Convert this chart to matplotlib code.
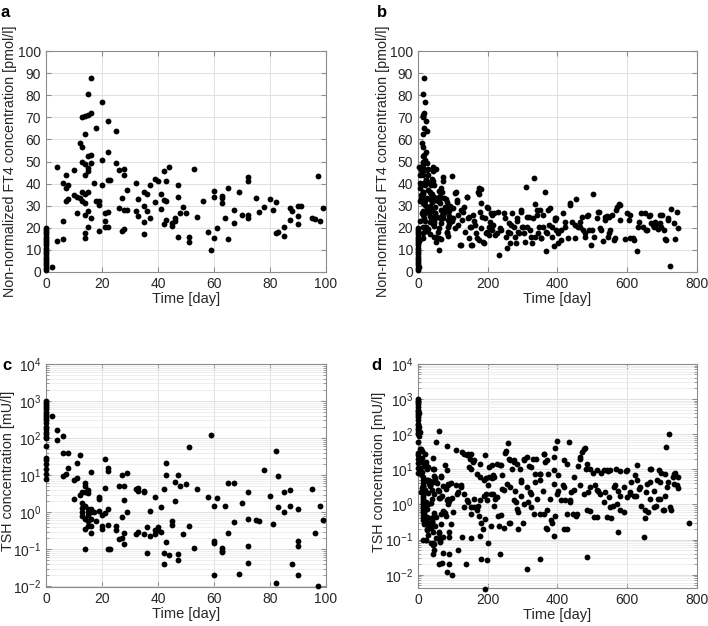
import numpy as np
import matplotlib
matplotlib.use("Agg")
import matplotlib.pyplot as plt
from matplotlib.ticker import LogLocator, NullFormatter

plt.rcParams['font.family'] = ['Liberation Sans', 'DejaVu Sans']
plt.rcParams['mathtext.default'] = 'regular'
plt.rcParams['font.size'] = 10

# ---- data ----
# panel a: FT4 in the first 100 days
a_day = [0, 0, 0, 0, 0, 0, 0, 0, 0, 0, 0, 0, 0, 0, 0, 0, 0, 0, 0, 0,
         2, 4, 4, 6, 6, 6, 7, 7, 7, 8, 8, 10, 10, 11, 11, 12, 12,
         13, 13, 13, 13, 13,
         14, 14, 14, 14, 14, 14, 14, 14, 14,
         15, 15, 15, 15, 15, 15, 15, 15,
         16, 16, 16, 16, 16, 17, 18, 18, 19, 19, 19, 20, 20, 20,
         21, 21, 21, 22, 22, 22, 22, 22, 23, 25, 25, 26, 26, 27, 27,
         28, 28, 28, 28, 29, 29, 32, 32, 33, 33, 35, 35, 35, 35, 36, 36,
         37, 37, 39, 39, 40, 41, 41, 42, 42, 42, 43, 43, 43, 44, 45, 45,
         46, 46, 47, 47, 47, 48, 49, 50, 51, 51, 53, 54, 56, 58, 59,
         60, 60, 60, 61, 63, 63, 63, 64, 65, 65, 67, 67, 69, 70,
         72, 72, 72, 72, 75, 76, 78, 80, 81, 82, 82, 83, 85, 85, 87, 87,
         88, 90, 90, 90, 91, 95, 96, 97, 98, 99]
a_ft4 = [1, 2, 3, 4, 5, 6, 7, 8, 9, 10, 11, 12, 13, 14, 15, 16, 17, 18, 19, 20,
         2.4, 47.5, 14, 40.5, 23, 15, 44, 38, 32, 39.5, 33, 46, 35, 34, 26.5, 58.5, 33.5,
         56.5, 70, 50, 36, 32,
         70.5, 62.5, 49, 44, 35.5, 31, 26, 17.5, 15.5,
         80.5, 71, 52.5, 47, 45.5, 36, 27.5, 20.5,
         88, 72, 53, 49.5, 24.5, 40.5, 65, 32, 32, 30.5, 18.5, 77, 50.5, 39.5,
         26.5, 23, 20.5, 68.5, 54.5, 41.5, 27, 20.5, 41.5, 64, 49.5, 46, 29, 33.5, 18.5,
         46.5, 44, 28, 19.5, 37, 28, 40.5, 27.5, 33, 25.5, 36, 30, 22.5, 17, 35.5, 27.5,
         39.5, 24.5, 42, 31.5, 41, 35.5, 28.5, 45.5, 32.5, 21.5, 41, 32, 23.5, 47.5, 22, 21,
         23, 24.5, 39.5, 34, 16, 26.5, 29.5, 26.5, 16, 13.5, 46.5, 25, 32, 18, 10,
         36.5, 34, 15.5, 20, 34.5, 31, 33.5, 24.5, 38, 15, 28, 22, 36, 26,
         43, 41, 26, 24.5, 33.5, 27, 29.5, 33, 28, 31.5, 17.5, 18, 20.5, 16.5, 29, 23.5,
         27.5, 30, 25.5, 21.5, 30, 24.5, 24, 43.5, 23, 29]

# panel b: FT4 after day 100 (panel b also shows all of panel a)
b_late_day = [101, 106, 106, 111, 114, 116, 120, 125, 130, 135, 140, 142, 146, 149, 154,
              159, 163, 168, 171, 175, 178, 182, 187, 192, 197, 200, 203, 206,
              108, 113, 122, 122, 132, 141, 146, 151, 151, 160, 165, 175, 175, 180, 180,
              184, 189, 194, 199, 203, 208, 213, 218, 227, 232, 237, 246, 251, 256, 261,
              265, 270, 275, 280, 284, 289, 294, 299, 304, 311, 313, 318, 323, 327, 332,
              335, 340, 344, 349, 354, 359, 364, 366, 370, 378, 383, 389, 394, 401, 409,
              416, 423, 431, 437, 442, 449, 454, 459, 466, 474, 480, 485, 490, 496, 502,
              506, 512, 518, 523, 531, 536, 542, 547, 552, 557, 563, 571, 576, 580, 595,
              600, 605, 609, 619, 628, 633, 639, 645, 652, 657, 662, 669, 676, 681, 687,
              693, 700, 705, 709, 716, 722, 726, 733, 738, 743, 745,
              397, 411, 421, 435, 450, 464, 469, 479, 488, 498, 516, 526, 535, 545, 549,
              564, 568, 578, 607, 616, 631, 654, 664, 674, 683, 693, 698, 712, 717,
              211, 216, 221, 230, 235, 249, 259, 264, 268, 278, 283, 287, 295, 301, 306,
              314, 320, 330, 335, 340, 346, 352, 358, 367, 372, 377, 384, 392, 396, 401]
b_late_ft4 = [24.3, 35.9, 20, 31.8, 25.8, 21.3, 12.2, 23.5, 27.3, 18.3, 34, 24.3, 15.5, 20.5, 12.2,
              25.8, 21.3, 15.2, 36.3, 37.9, 27.3, 19.8, 13.7, 24.3, 18.3, 28.8, 16.7, 22.8,
              36, 32.5, 28, 12.2, 29.5, 34, 25, 20.5, 12, 23, 17.5, 14.5, 35.5, 37.5, 31,
              25, 13, 17.5, 29.5, 20.5, 26.5, 19, 26.5, 17.5, 7.7, 19, 26.5, 16, 10.7, 22,
              17.5, 26.5, 20.5, 13.3, 23, 17.5, 28, 20.5, 17.5, 38.3, 20.5, 25, 16, 13.3, 42.4,
              30.8, 25.8, 17.5, 28, 15.2, 20.5, 36, 9.7, 17.5, 28.8, 20.5, 11.8, 23.5, 17.5, 14.5,
              26.5, 20.5, 15.2, 31, 22.8, 15.2, 32.9, 20.5, 22.8, 19, 16, 25.3, 19, 12.2, 35.4,
              16, 24.3, 27.3, 19.8, 14.2, 23.5, 25.3, 17.5, 19, 25.8, 14.5, 29.5, 30.8, 23.5, 14.8,
              26.8, 23.5, 15.2, 14.5, 9.5, 22.8, 26.5, 20.5, 26.5, 19, 25.3, 22, 20.5, 22.8, 19.3,
              22, 25.8, 19, 14.8, 23.5, 2.7, 28.4, 22.3, 14.8, 27.3, 20,
              24.3, 18.9, 22.6, 30.3, 21.1, 20.3, 24.8, 17.5, 25.6, 18.9, 27.3, 18.9, 24.8, 16, 24.8,
              15.2, 28, 30.3, 25.6, 15.2, 20.3, 18.9, 25.6, 21.1, 21.9, 25.6, 20.3, 14.5, 24.3,
              25.8, 21.3, 16.7, 27.3, 20, 24.3, 18.3, 13, 21.3, 16, 24.3, 18.3, 27.3, 20.5, 13.7,
              25, 19, 24.3, 16, 28, 20.5, 15.2, 25.8, 18.3, 28, 21.3, 16, 24.3, 19, 13]

# panel c: TSH in the first 100 days
c_day = [0, 0, 0, 0, 0, 0, 0, 0, 0, 0, 0, 0, 0, 0, 0, 0, 0, 0, 0, 0, 0, 0, 0, 0,
         2, 4, 4, 6, 6, 6, 7, 8, 8, 10, 10, 11, 11, 12, 12,
         13, 13, 13, 13, 13, 14, 14, 14, 14, 14, 14, 14,
         15, 15, 15, 15, 15, 15, 15, 16, 16, 16, 16, 16, 16,
         17, 18, 19, 19, 19, 20, 20, 20, 21, 21, 21, 22, 22, 22, 22, 22, 23,
         25, 25, 26, 26, 27, 27, 27, 28, 28, 28, 28, 29, 29, 32, 32, 33, 33, 33,
         35, 35, 35, 36, 36, 37, 37, 39, 39, 39, 40, 40, 41, 41, 42, 42, 42,
         43, 43, 43, 44, 45, 45, 46, 46, 47, 47, 47, 48, 49, 50, 51, 51, 53, 54,
         58, 59, 60, 60, 60, 60, 61, 63, 63, 63, 64, 65, 65, 67, 67, 69, 70,
         72, 72, 72, 72, 75, 76, 78, 80, 81, 82, 82, 83, 83, 85, 85, 87, 87, 88,
         90, 90, 90, 90, 95, 96, 97, 98, 99]
c_tsh = [1000, 900, 800, 700, 600, 500, 450, 400, 350, 300, 250, 200, 180, 150, 130, 110,
         100, 60, 30, 25, 20, 15, 11, 8,
         390, 164, 88, 112, 39, 9.6, 11, 16, 39, 7.2, 2.2, 21, 8.5, 34, 3,
         3.4, 1.8, 1.3, 1.0, 0.8, 6, 5, 3.4, 1.5, 0.65, 0.35, 0.1,
         4.0, 3.3, 1.2, 1.0, 0.86, 0.56, 0.43, 12.3, 1.2, 1.0, 0.66, 0.43, 0.28,
         1.0, 0.56, 2.5, 2.3, 1.1, 0.83, 0.43, 0.36, 28, 4.6, 0.95, 16, 13, 1.2, 0.44, 0.1, 0.1,
         0.43, 0.32, 5, 0.19, 10, 0.73, 0.2, 5, 2.1, 0.28, 0.135, 11.6, 1.0, 4.2, 0.25, 4.6, 3.7, 0.3,
         3.7, 3.4, 0.25, 0.4, 0.08, 1.1, 0.22, 2.6, 0.25, 0.34, 0.4, 0.32, 1.4, 0.3, 4.3, 0.08, 0.04,
         21.5, 10, 0.16, 0.07, 0.56, 0.44, 6.5, 2.0, 10, 0.075, 0.05, 5.1, 0.25, 5.6, 58, 0.43, 0.11, 4.2,
         2.6, 125, 1.5, 0.17, 0.15, 0.02, 2.4, 0.11, 0.09, 0.085, 1.5, 6.3, 0.27, 6, 0.55, 0.022, 1.75,
         3.4, 0.66, 0.12, 0.042, 0.62, 0.58, 13.5, 2.7, 0.47, 46, 0.012, 9.6, 1.35, 3.5, 1.0, 3.9, 1.45, 0.04,
         1.25, 0.17, 0.12, 0.02, 4.2, 0.27, 0.01, 1.5, 0.62]

# panel d: TSH after day 100 (panel d also shows all of panel c)
d_late_day = [108, 127, 132, 141, 146, 151, 151, 160, 170, 179, 189, 194, 203, 213, 218,
              227, 237, 251, 259, 265, 275, 284, 294, 304, 313, 323, 337, 351, 361, 370,
              389, 394, 399, 418, 428, 434, 447, 466, 475, 485, 494, 514, 533, 542, 552,
              580, 600, 628, 666, 690, 709, 712, 721, 733, 747, 776,
              115, 139, 182, 197, 191, 235, 313, 349, 485, 648, 573, 200, 179, 151, 125,
              210, 232, 265, 287, 370, 389, 418,
              113, 122, 132, 141, 151, 160, 170, 179, 189, 199, 208, 218, 227, 237, 246,
              256, 265, 275, 284, 294, 304, 313, 323, 332, 342, 351, 361, 370, 380, 389,
              399, 409, 418, 428, 437, 447, 456, 466, 475, 485, 494, 504, 514, 523, 533,
              542, 552, 561, 571, 580, 590, 600, 609, 619, 628, 638, 652, 657, 666, 676,
              685, 695, 705, 714, 724, 733, 743,
              144, 149, 158, 177, 191, 211, 216, 213, 235, 240, 250, 260, 274, 269, 293,
              303, 317, 331, 336, 350, 360, 365, 374, 389,
              109, 114, 123, 133, 142, 152, 161, 171, 176, 181, 191, 186, 196, 200, 205,
              215, 220, 229, 240, 248, 262, 277, 282, 287, 296, 301, 316, 320, 325, 335,
              349, 359, 368, 378, 383, 392, 401,
              402, 416, 421, 426, 436, 440, 445, 454, 459, 464, 469, 479, 483, 488, 493,
              502, 507, 512, 516, 526, 535, 545, 549, 554, 559, 564, 568, 573, 578, 592,
              597, 607, 611, 621, 626, 635, 640, 650, 655, 659, 664, 669, 678, 683, 688,
              693, 697, 702, 707, 717, 726, 731, 736, 745]
d_late_tsh = [35, 32, 28, 25, 12, 10.5, 28, 18, 7.6, 6, 4.9, 5.5, 11.8, 6, 6.2,
              14, 13, 33, 55, 18, 16.5, 14.5, 4.9, 18, 22, 12, 20, 7.6, 28, 18,
              9.5, 40, 63, 18, 14.5, 60, 6, 22, 37, 14.5, 10.5, 9.5, 9.4, 9.4, 9.4,
              9, 9.4, 13, 10.5, 9.5, 7.6, 44, 100, 7.6, 6, 0.3,
              0.05, 0.02, 0.028, 0.027, 0.004, 0.04, 0.015, 0.028, 0.031, 0.12, 0.16, 0.08, 0.13, 0.11, 0.12,
              0.25, 0.25, 0.3, 0.2, 0.2, 0.13, 0.2,
              2, 3.2, 0.85, 1.3, 0.54, 0.85, 0.68, 1.3, 1.8, 1.3, 2.0, 0.93, 1.6, 0.49, 2.5,
              3.9, 3.2, 1.3, 0.76, 1.8, 1.05, 3.2, 2.0, 0.54, 1.45, 4.9, 0.54, 0.68, 0.35, 3.9,
              2.0, 1.3, 3.2, 0.54, 1.3, 2.5, 0.54, 3.5, 2.0, 0.68, 3.2, 0.44, 2.5, 2.0, 1.17,
              0.44, 0.85, 3.2, 1.05, 1.8, 3.2, 1.6, 2.0, 1.8, 4.9, 3.2, 0.7, 3.9, 1.45, 0.85,
              4.9, 1.45, 0.68, 3.2, 0.85, 3.9, 3.5,
              28, 20, 16, 14.5, 25, 13.7, 6.8, 5.6, 13.7, 6.8, 30, 20, 18, 10, 10,
              20, 12.6, 20, 7.4, 7.4, 28, 16, 7.4, 22,
              3.5, 2.2, 3.6, 2.0, 1.2, 0.85, 1.45, 0.93, 0.48, 0.3, 0.39, 0.2, 2.0, 3.5, 6,
              2.0, 1.45, 0.48, 2.8, 0.22, 0.3, 2.4, 1.2, 0.6, 4.3, 0.3, 1.2, 2.2, 0.85, 4.3,
              0.55, 2.4, 0.22, 1.45, 0.3, 0.48, 2.4,
              6.9, 3.5, 1.3, 0.2, 1.15, 2.2, 0.54, 0.48, 12.6, 20, 32, 40, 10, 2.2, 0.65,
              8, 3.5, 0.44, 2.4, 8, 2.2, 9, 1.6, 0.4, 0.93, 3.5, 10, 2.4, 0.7, 0.6,
              9, 2.2, 4.3, 6.9, 1.8, 2.8, 0.93, 0.4, 2.2, 0.6, 4.3, 10, 2.4, 0.93, 1.45,
              4.3, 8, 0.7, 1.8, 4.3, 0.7, 6.2, 8, 3.0]

b_day = a_day + b_late_day
b_ft4 = a_ft4 + b_late_ft4
d_day = c_day + d_late_day
d_tsh = c_tsh + d_late_tsh

ft4_label = "Non-normalized FT4 concentration [pmol/l]"
tsh_label = "TSH concentration [mU/l]"
spine_col = "#8c8c8c"
text_col = "#262626"


def style_axes(ax):
    for s in ax.spines.values():
        s.set_color(spine_col)
        s.set_linewidth(0.8)
    ax.tick_params(which='both', direction='in', top=True, right=True,
                   color=spine_col, labelcolor=text_col, labelsize=10)
    ax.tick_params(which='major', length=3.5)
    ax.tick_params(which='minor', length=2)
    ax.grid(True, which='major', color='#e0e0e0', linewidth=0.7)
    ax.set_axisbelow(True)


def dots(ax, x, y):
    ax.plot(x, y, 'o', color='black', markersize=4.2, markeredgewidth=0,
            linestyle='none', clip_on=False, zorder=3)


fig = plt.figure(figsize=(7.08, 6.26), dpi=100)
ax_a = fig.add_axes([0.065, 0.5655, 0.3955, 0.353])
ax_b = fig.add_axes([0.5904, 0.5655, 0.394, 0.353])
ax_c = fig.add_axes([0.065, 0.0623, 0.3955, 0.356])
ax_d = fig.add_axes([0.5904, 0.0607, 0.394, 0.358])

# linear FT4 panels
for ax, x, y, xmax, xstep, lx in [(ax_a, a_day, a_ft4, 100, 20, -0.104),
                                  (ax_b, b_day, b_ft4, 800, 200, -0.100)]:
    style_axes(ax)
    dots(ax, x, y)
    ax.set_xlim(0, xmax)
    ax.set_ylim(0, 100)
    ax.set_xticks(np.arange(0, xmax + 1, xstep))
    ax.set_yticks(np.arange(0, 101, 10))
    ax.set_xlabel("Time [day]", color=text_col, labelpad=1, fontsize=10.5)
    ax.set_ylabel(ft4_label, color=text_col, fontsize=10.3)
    ax.yaxis.set_label_coords(lx, 0.5)

# log TSH panels
for ax, x, y, xmax, xstep, ylo, lx in [(ax_c, c_day, c_tsh, 100, 20, 0.0095, -0.111),
                                       (ax_d, d_day, d_tsh, 800, 200, 0.0042, -0.113)]:
    ax.set_yscale('log')
    style_axes(ax)
    ax.grid(True, which='minor', axis='y', color='#ebebeb', linewidth=0.6)
    dots(ax, x, y)
    ax.set_xlim(0, xmax)
    ax.set_ylim(ylo, 1e4)
    ax.set_xticks(np.arange(0, xmax + 1, xstep))
    ax.yaxis.set_major_locator(LogLocator(base=10, numticks=10))
    ax.yaxis.set_minor_locator(LogLocator(base=10, subs=np.arange(2, 10), numticks=100))
    ax.yaxis.set_minor_formatter(NullFormatter())
    ax.set_xlabel("Time [day]", color=text_col, labelpad=1, fontsize=10.5)
    ax.set_ylabel(tsh_label, color=text_col, fontsize=10.3)
    ax.yaxis.set_label_coords(lx, 0.52)

fig.text(0.001, 0.992, "a", fontsize=12, fontweight='bold', va='top', ha='left')
fig.text(0.532, 0.992, "b", fontsize=12, fontweight='bold', va='top', ha='left')
fig.text(0.003, 0.428, "c", fontsize=12, fontweight='bold', va='top', ha='left')
fig.text(0.524, 0.428, "d", fontsize=12, fontweight='bold', va='top', ha='left')

fig.savefig("out.png", dpi=100)
